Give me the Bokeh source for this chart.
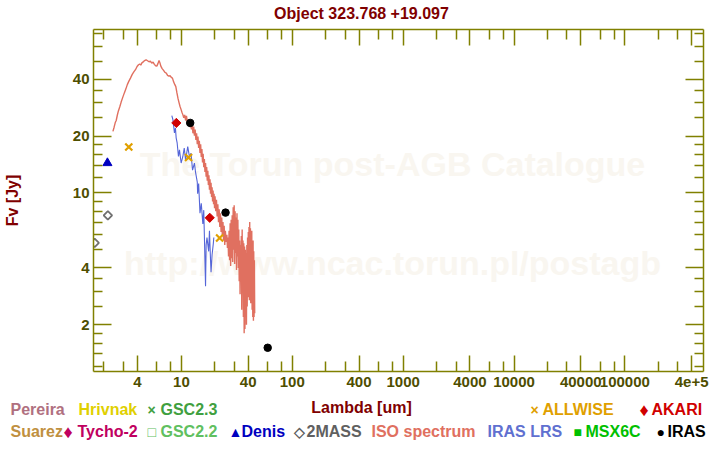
from math import pi
from bokeh.plotting import figure
from bokeh.layouts import column
from bokeh.models import LogAxis, FixedTicker, Label, Range1d, ColumnDataSource
from bokeh.core.properties import value
from bokeh.embed import file_html
from bokeh.resources import INLINE

# ---------------- data ----------------
title_text = "Object 323.768 +19.097"
x_label_text = "Lambda [um]"
y_label_text = "Fv [Jy]"
watermark_1 = "The Torun post-AGB Catalogue"
watermark_2 = "http://www.ncac.torun.pl/postagb"

x_major_ticks = [4, 10, 40, 100, 400, 1000, 4000, 10000, 40000, 100000, 400000]
x_tick_labels = ["4", "10", "40", "100", "400", "1000", "4000", "10000", "40000", "100000", "4e+5"]
x_minor_ticks = [2, 3, 6, 8, 20, 30, 60, 80, 200, 300, 600, 800, 2000, 3000, 6000, 8000,
                 20000, 30000, 60000, 80000, 200000, 300000]
y_major_ticks = [2, 4, 10, 20, 40]
y_tick_labels = ["2", "4", "10", "20", "40"]
y_minor_ticks = [1.2, 1.4, 1.6, 1.8, 2.5, 3, 3.5, 5, 6, 7, 8, 9, 12, 14, 16, 18, 25, 30, 35, 50, 60, 70]

iso_wavelength = [2.41, 2.47, 2.53, 2.58, 2.64, 2.70, 2.78, 2.86, 2.95, 3.05, 3.15, 3.25, 3.35, 3.47,
                  3.60, 3.72, 3.85, 3.98, 4.10, 4.20, 4.30, 4.40, 4.52, 4.65, 4.80, 4.95, 5.10, 5.25,
                  5.40, 5.55, 5.70, 5.85, 6.00, 6.15, 6.28, 6.40, 6.52, 6.70, 6.90, 7.10, 7.30, 7.50,
                  7.70, 7.90, 8.10, 8.30, 8.50, 8.70, 8.90, 9.10, 9.30, 9.50, 9.70, 9.90, 10.1, 10.3,
                  10.5, 10.7, 10.9, 11.1, 11.3, 11.5, 11.7, 11.9, 12.1, 12.3, 12.5, 12.7, 12.9, 13.1,
                  13.3, 13.5, 13.7, 13.9, 14.1, 14.3, 14.5, 14.7, 14.9, 15.1, 15.3, 15.5, 15.7, 15.9,
                  16.1, 16.3, 16.5, 16.7, 16.9, 17.1, 17.3, 17.5, 17.7, 17.9, 18.1, 18.3, 18.5, 18.7,
                  18.9, 19.1, 19.3, 19.5, 19.7, 19.9, 20.1, 20.4, 20.7, 21.0, 21.3, 21.6, 21.9, 22.2,
                  22.5, 22.8, 23.1, 23.4, 23.7, 24.0, 24.3, 24.6, 24.9,
                  25.3, 25.7, 26.0, 26.3, 26.6, 26.9, 27.2, 27.5, 27.8, 28.1, 28.4, 28.7, 29.0, 29.3,
                  29.6, 29.9, 30.2, 30.5, 30.8, 31.1, 31.4, 31.7, 32.0, 32.3, 32.6, 32.9, 33.2, 33.5,
                  33.8, 34.1, 34.4, 34.7, 35.0, 35.3, 35.6, 35.9, 36.2, 36.5, 36.8, 37.1, 37.4, 37.7,
                  38.0, 38.3, 38.6, 38.9, 39.2, 39.5, 39.8, 40.1, 40.4, 40.7, 41.0, 41.3, 41.6, 41.9,
                  42.2, 42.5, 42.8, 43.1, 43.4, 43.7, 44.0, 44.3, 44.6, 44.9, 45.2, 45.5, 45.8]
iso_flux = [21.2, 22.3, 23.6, 24.2, 25.8, 27.2, 28.6, 30.3, 32.0, 33.8, 35.5, 37.5, 39.0, 40.6,
            42.5, 43.8, 45.0, 46.8, 47.8, 48.2, 47.6, 48.9, 49.5, 50.3, 50.8, 50.2, 49.6, 49.9,
            48.8, 49.3, 48.0, 47.2, 47.0, 48.6, 50.4, 48.9, 47.0, 45.6, 44.6, 43.5, 43.2, 42.0,
            41.6, 41.8, 41.0, 40.6, 38.8, 37.6, 36.6, 34.0, 31.8, 30.2, 28.8, 27.8, 26.8, 26.0,
            25.0, 25.9, 24.2, 25.6, 23.8, 23.0, 24.4, 22.3, 23.7, 21.7, 23.1, 20.7, 22.5, 20.1,
            21.7, 19.1, 20.7, 18.1, 19.9, 17.3, 18.9, 16.3, 18.1, 15.5, 17.1, 14.5, 16.1, 13.7,
            15.1, 12.9, 14.4, 12.2, 13.7, 11.6, 13.1, 11.0, 12.4, 10.4, 11.8, 9.9, 11.3, 9.5,
            10.7, 9.0, 10.3, 8.7, 9.9, 8.3, 9.6, 8.0, 9.2, 7.5, 8.7, 7.0, 8.2, 6.6,
            7.8, 6.2, 7.4, 5.9, 7.0, 5.6, 6.7, 5.3, 6.3,
            5.5, 6.0, 5.1, 5.8, 4.6, 6.3, 4.4, 6.9, 4.1, 7.2, 4.5, 7.6, 4.3, 8.4,
            5.0, 8.6, 4.2, 8.0, 4.8, 7.4, 3.9, 7.8, 4.6, 7.2, 4.0, 6.4, 3.4, 5.6,
            2.9, 5.3, 3.6, 5.9, 2.4, 6.4, 3.0, 5.6, 2.2, 5.4, 1.8, 5.2, 1.9, 5.0,
            2.3, 4.8, 2.0, 5.3, 2.5, 5.8, 2.8, 6.2, 3.1, 6.6, 2.7, 7.0, 3.0, 6.5,
            2.6, 5.9, 2.9, 6.3, 2.4, 5.4, 2.2, 5.6, 2.1, 4.9, 2.2, 4.4, 2.3]

lrs_wavelength = [8.19, 8.37, 8.50, 8.65, 8.83, 8.96, 9.15, 9.40, 9.60, 9.94, 10.3, 10.6, 10.9,
                  11.4, 11.8, 12.2, 12.6, 13.1, 13.4, 13.9, 14.0, 14.3, 14.7, 15.1, 15.6, 15.9,
                  16.1, 16.5, 16.7, 17.0, 17.6, 17.9, 18.3, 18.5, 18.9, 19.4, 19.6]
lrs_flux = [25.7, 24.5, 22.7, 20.8, 22.1, 19.6, 18.4, 15.6, 16.9, 14.4, 15.6, 17.3, 14.9,
            17.6, 15.6, 16.2, 13.2, 14.4, 12.9, 11.4, 9.9, 11.2, 7.8, 8.8, 6.85, 8.1,
            6.0, 3.2, 5.3, 5.8, 4.9, 6.3, 4.4, 3.8, 4.7, 5.4, 5.8]

allwise_wavelength = [3.35, 11.6, 22.1]
allwise_flux = [17.5, 15.4, 5.77]
akari_wavelength = [9.0, 18.0]
akari_flux = [23.5, 7.38]
iras_wavelength = [12.0, 25.0, 60.0]
iras_flux = [23.5, 7.86, 1.51]
denis_wavelength = [2.15]
denis_flux = [14.4]
twomass_wavelength = [1.65, 2.17]
twomass_flux = [5.43, 7.6]

legend_row1_names = ["Pereira", "Hrivnak", "GSC2.3", "ALLWISE", "AKARI"]
legend_row1_symbols = ["", "", "\u00d7", "\u00d7", "\u2666"]
legend_row2_names = ["Suarez", "Tycho-2", "GSC2.2", "Denis", "2MASS", "ISO spectrum", "IRAS LRS", "MSX6C", "IRAS"]
legend_row2_symbols = ["", "\u2666", "\u25a1", "\u25b2", "\u25c7", "", "", "\u25a0", "\u25cf"]

# ---------------- styles / layout ----------------
DARK_RED = "#800000"
OLIVE = "#808000"
TICK_TXT = "#4E4E00"
FONT = "Liberation Sans"
legend_row1_colors = ["#B07080", "#E0D000", "#40A040", "#E0A000", "#D00000"]
legend_row2_colors = ["#C09040", "#C00060", "#60C060", "#0000C0", "#606060", "#E07060", "#6070D0", "#00C000", "#000000"]
legend_row1_text_x = [10, 78, 160, 542, 651]
legend_row1_sym_x = [None, None, 147, 530, 639]
legend_row2_text_x = [10, 77, 160, 241, 306, 371, 487, 585, 667]
legend_row2_sym_x = [None, 63, 147, 228, 293, None, None, 573, 656]
SYM_SIZES = {"\u2666": "18px"}
SYM_DEFAULT = "14px"

W = 712
TITLE_H = 22          # page rows 0..22
MAIN_H = 372          # page rows 22..394 ; frame 29..371
LEG_H = 52            # page rows 394..446
ROW1_Y, ROW2_Y, XLAB_Y = 409, 431, 407


def text_panel(height):
    f = figure(width=W, height=height, x_range=Range1d(0, W), y_range=Range1d(height, 0),
               output_backend="svg", toolbar_location=None, min_border=0,
               x_axis_location=None, y_axis_location=None)
    f.grid.visible = False
    f.outline_line_color = None
    f.background_fill_color = "white"
    f.border_fill_color = "white"
    f.frame_align = False
    return f


# ---- title panel ----
tp = text_panel(TITLE_H)
tp.text(x=[361], y=[13], text=[title_text], text_color=DARK_RED, text_font=value(FONT),
        text_font_style="bold", text_font_size="16px", text_align="center", text_baseline="middle")

# ---- main plot ----
p = figure(width=W, height=MAIN_H,
           x_axis_type="log", y_axis_type="log",
           x_range=Range1d(1.61, 5.12e5), y_range=Range1d(1.13, 73.5),
           output_backend="svg", toolbar_location=None,
           min_border_left=92, min_border_right=9, min_border_top=7, min_border_bottom=23)
p.frame_align = False
p.xgrid.visible = False
p.ygrid.visible = False
p.outline_line_color = None
p.background_fill_color = "white"
p.border_fill_color = "white"


def style_axis(ax, major_len, minor_len, show_labels, standoff):
    ax.axis_line_color = OLIVE
    ax.axis_line_width = 1.5
    ax.major_tick_line_color = OLIVE
    ax.minor_tick_line_color = OLIVE
    ax.major_tick_line_width = 1.5
    ax.minor_tick_line_width = 1.5
    ax.major_tick_in = major_len
    ax.major_tick_out = 0
    ax.minor_tick_in = minor_len
    ax.minor_tick_out = 0
    if show_labels:
        ax.major_label_text_color = TICK_TXT
        ax.major_label_text_font = FONT
        ax.major_label_text_font_style = "bold"
        ax.major_label_text_font_size = "15px"
        ax.major_label_standoff = standoff
    else:
        ax.major_label_text_color = None
        ax.major_label_text_font_size = "0px"
        ax.major_label_standoff = 0


xa = p.xaxis[0]
xa.ticker = FixedTicker(ticks=x_major_ticks, minor_ticks=x_minor_ticks)
xa.major_label_overrides = {t: s for t, s in zip(x_major_ticks, x_tick_labels)}
style_axis(xa, 16, 10, True, 5)
ya = p.yaxis[0]
ya.ticker = FixedTicker(ticks=y_major_ticks, minor_ticks=y_minor_ticks)
ya.major_label_overrides = {t: s for t, s in zip(y_major_ticks, y_tick_labels)}
style_axis(ya, 18, 9, True, 4)
ya.axis_label = y_label_text
ya.axis_label_text_color = DARK_RED
ya.axis_label_text_font = FONT
ya.axis_label_text_font_style = "bold"
ya.axis_label_text_font_size = "16px"
ya.axis_label_standoff = 49

top = LogAxis(ticker=FixedTicker(ticks=x_major_ticks, minor_ticks=x_minor_ticks))
style_axis(top, 16, 10, False, 0)
p.add_layout(top, "above")
right = LogAxis(ticker=FixedTicker(ticks=y_major_ticks, minor_ticks=y_minor_ticks))
style_axis(right, 18, 9, False, 0)
p.add_layout(right, "right")

FL, FB = 92, 349  # frame left / bottom inside the main canvas


def frame_label(text, cx, cy_page, color, size):
    lab = Label(x=cx - FL, y=FB - (cy_page - TITLE_H), x_units="screen", y_units="screen",
                text=text, text_color=color, text_font_size=f"{size}px", text_font=FONT,
                text_font_style="bold", text_align="center", text_baseline="middle",
                level="underlay")
    p.add_layout(lab)


# faint watermark, beneath the data
frame_label(watermark_1, 391, 163, "#F9F6F0", 34)
frame_label(watermark_2, 391, 262, "#F9F6F0", 34)

# data
p.line(iso_wavelength, iso_flux, line_color="#E07060", line_width=1.4)
p.line(lrs_wavelength, lrs_flux, line_color="#5566D8", line_width=1.1)
p.scatter(twomass_wavelength, twomass_flux, marker="square", angle=pi / 4, size=6,
          fill_color=None, line_color="#707070", line_width=1.8)
p.scatter(denis_wavelength, denis_flux, marker="triangle", size=9,
          fill_color="#0000C0", line_color="#0000C0")
p.scatter(allwise_wavelength, allwise_flux, marker="x", size=10,
          line_color="#E0A000", line_width=2.2)
p.scatter(akari_wavelength, akari_flux, marker="square", angle=pi / 4, size=6.5,
          fill_color="#D00000", line_color="#D00000", line_width=1)
p.scatter(iras_wavelength, iras_flux, marker="circle", size=7.5,
          fill_color="#000000", line_color="#000000")

# ---- x label + legend panel ----
lp = text_panel(LEG_H)
top0 = TITLE_H + MAIN_H
lx, ly, lt, lc, ls = [], [], [], [], []
lx.append(361); ly.append(XLAB_Y - top0); lt.append(x_label_text); lc.append(DARK_RED); ls.append("16px")
for names, syms, cols, txs, sxs, row_y in (
        (legend_row1_names, legend_row1_symbols, legend_row1_colors, legend_row1_text_x, legend_row1_sym_x, ROW1_Y),
        (legend_row2_names, legend_row2_symbols, legend_row2_colors, legend_row2_text_x, legend_row2_sym_x, ROW2_Y)):
    for name, sym, col, tx, sx in zip(names, syms, cols, txs, sxs):
        lx.append(tx); ly.append(row_y - top0); lt.append(name); lc.append(col); ls.append("16px")
        if sym:
            lx.append(sx); ly.append(row_y - top0); lt.append(sym); lc.append(col)
            ls.append(SYM_SIZES.get(sym, SYM_DEFAULT))
align = ["center"] + ["left"] * (len(lx) - 1)
src = ColumnDataSource(dict(x=lx, y=ly, text=lt, color=lc, size=ls, align=align))
lp.text(x="x", y="y", text="text", text_color="color", text_font_size="size", text_align="align",
        text_font=value(FONT), text_font_style="bold", text_baseline="middle", source=src)

layout = column(tp, p, lp, spacing=0)
open("out.html", "w").write(file_html(layout, INLINE))
